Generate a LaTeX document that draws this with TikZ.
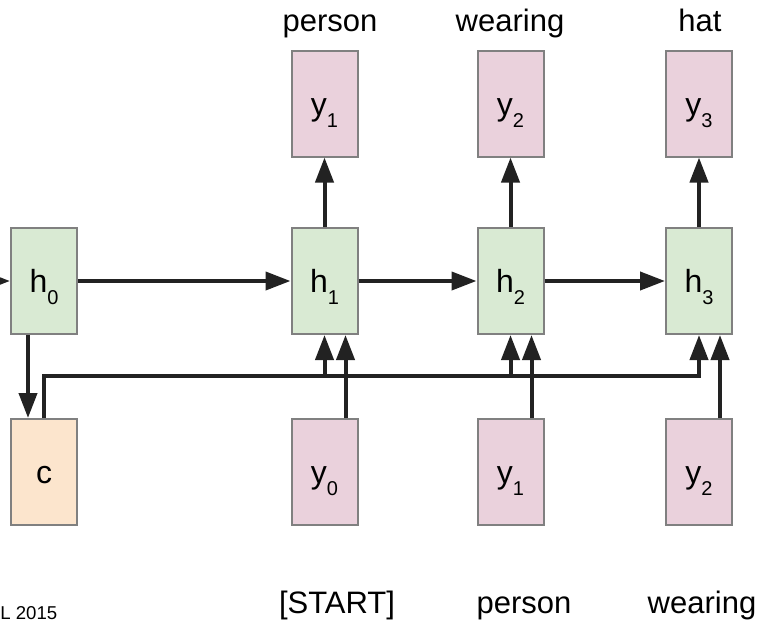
\documentclass[tikz,border=0pt]{standalone}
\usepackage{fontspec}
\setmainfont{Liberation Sans}
\usetikzlibrary{arrows.meta}
\definecolor{hgreen}{HTML}{D9EAD3}
\definecolor{ypink}{HTML}{EAD1DC}
\definecolor{corange}{HTML}{FCE5CD}
\definecolor{boxgray}{HTML}{808080}
\definecolor{wire}{HTML}{222222}
\newcommand{\idx}[2]{#1\raisebox{-6pt}{\fontsize{10}{11}\selectfont #2}}

\begin{document}
\begin{tikzpicture}[x=0.5pt,y=-0.5pt,
    cell/.style={draw=boxgray,line width=1pt,minimum width=33pt,minimum height=53pt,
      inner sep=0pt,text height=11.5pt,text depth=0pt,font=\fontsize{16}{18}\selectfont},
    hcell/.style={cell,fill=hgreen},
    ycell/.style={cell,fill=ypink},
    ccell/.style={cell,fill=corange},
    word/.style={anchor=base,inner sep=0pt,font=\fontsize{15.5}{18}\selectfont},
    link/.style={draw=wire,line width=2pt,-{Triangle[length=12.5pt,width=9pt]}}]
    \useasboundingbox (0,0) rectangle (763,621);
    \node[hcell] (h0) at (44,281) {\idx{h}{0}};
    \node[ccell] (c) at (44,472) {c};
    \foreach \i/\x/\j in {1/324.5/0,2/510.5/1,3/699/2} {
        \node[hcell] (h\i) at (\x,281) {\idx{h}{\i}};
        \node[ycell] (out\i) at (\x,103.5) {\idx{y}{\i}};
        \node[ycell] (in\i) at (\x,472) {\idx{y}{\j}};
    }
    \node[word] (wout1) at (330,32) {person};
    \node[word] (wout2) at (510,32) {wearing};
    \node[word] (wout3) at (700,32) {hat};
    \node[word] (win1) at (337,613) {[START]};
    \node[word] (win2) at (524,613) {person};
    \node[word] (win3) at (702,613) {wearing};
    \node[anchor=base west,inner sep=0pt,font=\fontsize{9.3}{11}\selectfont] (cite) at (0,619) {L 2015};
    \coordinate (start) at (0,281);
    \coordinate (bus) at (44,376);
    \draw[link] (start) -- (h0.west);
    \draw[link] (h0) -- (h1);
    \draw[link] (h1) -- (h2);
    \draw[link] (h2) -- (h3);
    \foreach \i in {1,2,3} {
        \draw[link] (h\i) -- (out\i);
        \draw[link] ([xshift=10.5pt]in\i.north) -- ([xshift=10.5pt]h\i.south);
    }
    \draw[link] ([xshift=-8pt]h0.south) -- ([xshift=-8pt]c.north);
    \draw[link] (c.north) -- (bus) -| (h3.south);
    \draw[link] (h1.south |- bus) -- (h1.south);
    \draw[link] (h2.south |- bus) -- (h2.south);
\end{tikzpicture}
\end{document}
